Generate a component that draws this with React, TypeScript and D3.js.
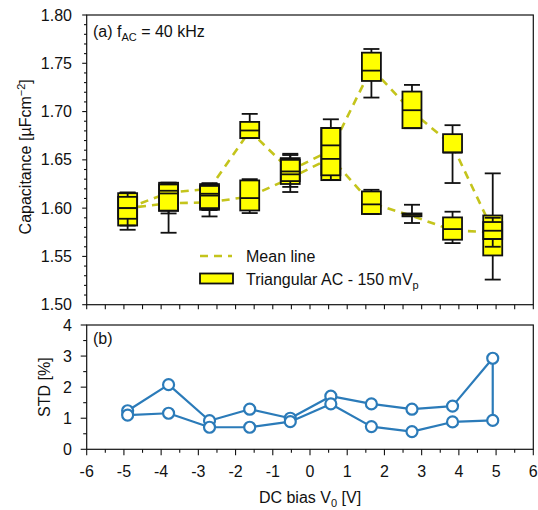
import React from "react";
import * as d3 from "d3";

// ---------- data ----------
const biasV = [-4.9, -3.8, -2.7, -1.62, -0.53, 0.56, 1.65, 2.74, 3.83, 4.91];

// sweep A (upper mean path)
const aLow = [1.5776, 1.5745, 1.5914, 1.6725, 1.6167, 1.629, 1.7145, 1.6828, 1.626, 1.526];
const aQ1 = [1.582, 1.5973, 1.5983, 1.6725, 1.625, 1.634, 1.7317, 1.6828, 1.6576, 1.551];
const aMed = [1.6, 1.618, 1.6149, 1.6804, 1.638, 1.665, 1.7424, 1.7014, 1.6576, 1.568];
const aQ3 = [1.6155, 1.6263, 1.6249, 1.6893, 1.6518, 1.683, 1.761, 1.7207, 1.6766, 1.5924];
const aHigh = [1.6163, 1.6263, 1.6259, 1.6976, 1.6563, 1.692, 1.7648, 1.7276, 1.6859, 1.636];
const aMean = [1.6, 1.616, 1.62, 1.68, 1.639, 1.66, 1.745, 1.7, 1.665, 1.577];

// sweep B (lower mean path)
const bLow = [1.582, 1.5945, 1.598, 1.5949, 1.622, 1.629, 1.5939, 1.5846, 1.5638, 1.56];
const bQ1 = [1.589, 1.5973, 1.6, 1.5976, 1.628, 1.629, 1.5939, 1.5915, 1.5673, 1.568];
const bMed = [1.6, 1.6152, 1.613, 1.6104, 1.635, 1.651, 1.6039, 1.593, 1.5783, 1.5766];
const bQ3 = [1.6117, 1.6245, 1.623, 1.6287, 1.65, 1.683, 1.6173, 1.5945, 1.5904, 1.5856];
const bHigh = [1.6155, 1.6263, 1.625, 1.63, 1.655, 1.683, 1.619, 1.6035, 1.5963, 1.59];
const bMean = [1.6, 1.605, 1.606, 1.612, 1.631, 1.652, 1.605, 1.592, 1.577, 1.575];

// relative standard deviation [%]
const stdA = [1.24, 2.08, 0.92, 1.29, 1.0, 1.71, 1.46, 1.29, 1.39, 2.93];
const stdB = [1.1, 1.16, 0.71, 0.71, 0.89, 1.46, 0.73, 0.57, 0.88, 0.93];

const capTicks = [1.5, 1.55, 1.6, 1.65, 1.7, 1.75, 1.8];
const stdTicks = [0, 1, 2, 3, 4];
const xTicks = [-6, -5, -4, -3, -2, -1, 0, 1, 2, 3, 4, 5, 6];

const FONT = "'Liberation Sans', Arial, Helvetica, sans-serif";
const MEAN_COLOR = "#c4c41c";
const STD_COLOR = "#2b7bb9";

export default function App() {
  const left = 86.7;
  const right = 533.3;
  const topA = 15;
  const botA = 304.7;
  const topB = 325;
  const botB = 449.3;

  const x = d3.scaleLinear().domain([-6, 6]).range([left, right]);
  const yA = d3.scaleLinear().domain([1.5, 1.8]).range([botA, topA]);
  const yB = d3.scaleLinear().domain([0, 4]).range([botB, topB]);

  const minorX = d3.range(-6, 6.001, 0.5);
  const minorA = d3.range(1.5, 1.8001, 0.01);
  const minorB = d3.range(0, 4.001, 0.5);

  const meanPts: [number, number][] = [
    ...biasV.map((v, i) => [v, aMean[i]] as [number, number]),
    ...biasV.map((v, i) => [v, bMean[i]] as [number, number]).reverse(),
  ];
  const meanPath = d3
    .line<[number, number]>()
    .x((d) => x(d[0]))
    .y((d) => yA(d[1]))(meanPts) as string;

  const stdPts: [number, number][] = [
    ...biasV.map((v, i) => [v, stdA[i]] as [number, number]),
    ...biasV.map((v, i) => [v, stdB[i]] as [number, number]).reverse(),
  ];
  const stdPath = (d3
    .line<[number, number]>()
    .x((d) => x(d[0]))
    .y((d) => yB(d[1]))(stdPts) as string) + "Z";

  const boxW = 19;
  const capW = 8;
  const sweeps = [
    { low: aLow, q1: aQ1, med: aMed, q3: aQ3, high: aHigh },
    { low: bLow, q1: bQ1, med: bMed, q3: bQ3, high: bHigh },
  ];

  const txt = { fontFamily: FONT, fontSize: 16, fill: "#111" } as const;

  return (
    <svg
      width={538}
      height={510}
      style={{ position: "absolute", left: 0, top: 0, background: "#fff" }}
    >
      <rect width={538} height={510} fill="#fff" />

      {/* ---------- panel (a) ---------- */}
      <path d={meanPath} fill="none" stroke={MEAN_COLOR} strokeWidth={2.6} strokeDasharray="8,6" />

      {/* box fills first */}
      {sweeps.map((s, si) =>
        biasV.map((v, i) => (
          <rect
            key={`f${si}-${i}`}
            x={x(v) - boxW / 2}
            y={yA(s.q3[i])}
            width={boxW}
            height={Math.max(yA(s.q1[i]) - yA(s.q3[i]), 1)}
            fill="#ffff00"
          />
        ))
      )}
      {/* box strokes, whiskers, medians */}
      {sweeps.map((s, si) =>
        biasV.map((v, i) => {
          const cx = x(v);
          return (
            <g key={`b${si}-${i}`} stroke="#111" strokeWidth={1.8} fill="none">
              <line x1={cx} x2={cx} y1={yA(s.low[i])} y2={yA(s.q1[i])} />
              <line x1={cx} x2={cx} y1={yA(s.q3[i])} y2={yA(s.high[i])} />
              <line x1={cx - capW} x2={cx + capW} y1={yA(s.low[i])} y2={yA(s.low[i])} />
              <line x1={cx - capW} x2={cx + capW} y1={yA(s.high[i])} y2={yA(s.high[i])} />
              <rect
                x={cx - boxW / 2}
                y={yA(s.q3[i])}
                width={boxW}
                height={Math.max(yA(s.q1[i]) - yA(s.q3[i]), 1)}
              />
              <line x1={cx - boxW / 2} x2={cx + boxW / 2} y1={yA(s.med[i])} y2={yA(s.med[i])} />
            </g>
          );
        })
      )}

      {/* frame a */}
      <rect x={left} y={topA} width={right - left} height={botA - topA} fill="none" stroke="#111" strokeWidth={1.2} />
      {minorX.map((t) => (
        <line key={`ax${t}`} x1={x(t)} x2={x(t)} y1={botA} y2={botA + 4.5} stroke="#111" strokeWidth={1.1} />
      ))}
      {minorA.map((t) => {
        const major = Math.abs(Math.round(t * 20) - t * 20) < 1e-6;
        return (
          <line key={`ay${t}`} x1={left - (major ? 4.5 : 2.7)} x2={left} y1={yA(t)} y2={yA(t)} stroke="#111" strokeWidth={1.1} />
        );
      })}
      {capTicks.map((t) => (
        <text key={`al${t}`} x={72} y={yA(t) + 5.5} textAnchor="end" {...txt}>
          {t.toFixed(2)}
        </text>
      ))}
      <text transform={`translate(31,${(topA + botA) / 2 - 3}) rotate(-90)`} textAnchor="middle" {...txt}>
        Capacitance [µFcm
        <tspan dy={-6} fontSize={11}>−2</tspan>
        <tspan dy={6}>]</tspan>
      </text>
      <text x={93} y={37} {...txt}>
        (a)  f<tspan dy={4} fontSize={11}>AC</tspan>
        <tspan dy={-4}> = 40 kHz</tspan>
      </text>

      {/* legend */}
      <line x1={200} x2={232} y1={256} y2={256} stroke={MEAN_COLOR} strokeWidth={2.6} strokeDasharray="8,6" />
      <text x={246} y={261.5} {...txt}>Mean line</text>
      <rect x={200} y={273.5} width={33} height={10} fill="#ffff00" stroke="#111" strokeWidth={1.8} />
      <text x={246} y={285} {...txt}>
        Triangular AC - 150 mV<tspan dy={4} fontSize={11}>p</tspan>
      </text>

      {/* ---------- panel (b) ---------- */}
      <path d={stdPath} fill="none" stroke={STD_COLOR} strokeWidth={2.2} strokeLinejoin="round" />
      {[stdA, stdB].map((arr, si) =>
        biasV.map((v, i) => (
          <circle key={`c${si}-${i}`} cx={x(v)} cy={yB(arr[i])} r={5.5} fill="#fff" stroke={STD_COLOR} strokeWidth={2.2} />
        ))
      )}
      <rect x={left} y={topB} width={right - left} height={botB - topB} fill="none" stroke="#111" strokeWidth={1.2} />
      {minorX.map((t) => {
        const major = Math.abs(t - Math.round(t)) < 1e-6;
        return (
          <line key={`bx${t}`} x1={x(t)} x2={x(t)} y1={botB} y2={botB + (major ? 6 : 3.5)} stroke="#111" strokeWidth={1.1} />
        );
      })}
      {minorB.map((t) => {
        const major = Math.abs(t - Math.round(t)) < 1e-6;
        return (
          <line key={`by${t}`} x1={left - (major ? 6 : 3.5)} x2={left} y1={yB(t)} y2={yB(t)} stroke="#111" strokeWidth={1.1} />
        );
      })}
      {stdTicks.map((t) => (
        <text key={`bl${t}`} x={72} y={yB(t) + 5.5} textAnchor="end" {...txt}>
          {t}
        </text>
      ))}
      {xTicks.map((t) => (
        <text key={`xl${t}`} x={x(t)} y={477} textAnchor="middle" {...txt}>
          {t}
        </text>
      ))}
      <text transform={`translate(50,${(topB + botB) / 2}) rotate(-90)`} textAnchor="middle" {...txt}>
        STD [%]
      </text>
      <text x={93} y={344} {...txt}>(b)</text>
      <text x={(left + right) / 2} y={503} textAnchor="middle" {...txt}>
        DC bias V<tspan dy={4} fontSize={11}>0</tspan>
        <tspan dy={-4}> [V]</tspan>
      </text>
    </svg>
  );
}
